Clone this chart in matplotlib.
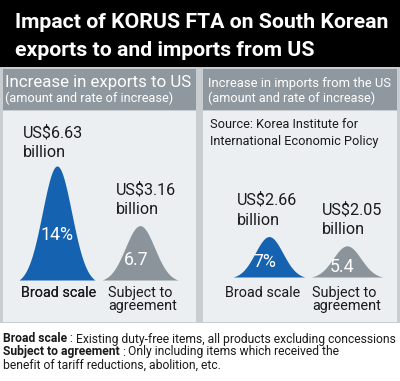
import matplotlib.pyplot as plt
import numpy as np
from matplotlib.patches import Rectangle

# chart data
categories = ["Broad scale", "Subject to\nagreement"]
exports_amount = [6.63, 3.16]          # US$ billion
exports_rate = ["14%", "6.7"]
imports_amount = [2.66, 2.05]
imports_rate = ["7%", "5.4"]

W, H = 400, 381
BLUE = "#1562b0"
GREY = "#8a949a"
HEAD = "#8f989e"
BODY = "#eceff1"
EDGE = "#c8cdd1"
INK = "#1a1a1a"
FONT = ["Roboto", "DejaVu Sans"]

fig = plt.figure(figsize=(W / 100, H / 100), dpi=100)
fig.patch.set_facecolor("white")
renderer = fig.canvas.get_renderer()


def fx(x):
    return x / W


def fy(y):
    return 1 - y / H


def box(x0, y0, x1, y1, color):
    fig.add_artist(Rectangle((fx(x0), fy(y1)), (x1 - x0) / W, (y1 - y0) / H,
                             transform=fig.transFigure, color=color, lw=0, zorder=0))


def put(x, y, s, w=None, size=10, ha="left", **kw):
    # draw text, optionally scaling it to a target pixel width
    t = fig.text(fx(x), fy(y), s, ha=ha, va="center", fontsize=size, family=FONT, **kw)
    if w is not None:
        size = size * w / t.get_window_extent(renderer).width
        t.set_fontsize(size)
    return size


def put_line(x, y, parts, size):
    # parts: list of (text, weight), drawn one after another
    for s, wt in parts:
        t = fig.text(fx(x), fy(y), s, ha="left", va="center", fontsize=size,
                     family=FONT, weight=wt, color=INK)
        x += t.get_window_extent(renderer).width
    return x


def bell(ax, pos, height, color, hw):
    x = np.linspace(-hw, hw, 300)
    s = hw / 2.6
    g = np.exp(-0.5 * (x / s) ** 2)
    g = (g - g[0]) / (1 - g[0])
    ax.fill_between(pos + x, 0, height * g, color=color, lw=0)


# backgrounds
box(0, 0, W, 67, "black")
box(0, 67, W, 323, EDGE)
box(3, 69, 196, 110, HEAD)
box(203, 69, 397, 110, HEAD)
box(3, 111, 196, 322, BODY)
box(203, 111, 397, 322, BODY)

# title
s = put(15, 22, "Impact of KORUS FTA on South Korean", 375, 18, weight="bold", color="white")
put(15, 50, "exports to and imports from US", None, s, weight="bold", color="white")

# panel headers
put(5, 83, "Increase in exports to US", 187, color="white")
put(5, 98, "(amount and rate of increase)", 168, color="white")
put(208, 83, "Increase in imports from the US", 183, color="white")
put(208, 98, "(amount and rate of increase)", 167, color="white")
s = put(210, 124, "Source: Korea Institute for", 148, color=INK)
put(210, 141, "International Economic Policy", None, s, color=INK)

# bell axes: (left px, base px, px per unit value, first centre px, step px, half width px)
panels = [
    (0, 280, 17.2, 57, 83, 38, exports_amount),
    (203, 277, 15.2, 269, 78, 36, imports_amount),
]
for left, base, ppu, c0, step, hw, amounts in panels:
    ax = fig.add_axes([fx(left), fy(base), 197 / W, (base - 112) / H])
    ax.set_axis_off()
    ax.set_ylim(0, (base - 112) / ppu)
    ax.set_xlim(-(c0 - left) / step, (197 - (c0 - left)) / step)
    for i, (v, col) in enumerate(zip(amounts, [BLUE, GREY])):
        bell(ax, i, v, col, hw / step)

# amount labels
amt_pos = [(23, 133), (116, 190), (237, 200), (322, 210)]
amounts = exports_amount + imports_amount
size = put(*amt_pos[0], f"US${amounts[0]:.2f}", 60, color=INK)
for (x, y), v in zip(amt_pos, amounts):
    if (x, y) != amt_pos[0]:
        put(x, y, f"US${v:.2f}", None, size, color=INK)
    put(x, y + 20, "billion", None, size, color=INK)

# rate labels inside the bells
rate_pos = [(57, 235), (136, 260), (265, 262), (342, 267)]
rates = exports_rate + imports_rate
size = put(*rate_pos[0], rates[0], 33, ha="center", color="white")
for (x, y), r in list(zip(rate_pos, rates))[1:]:
    put(x, y, r, None, size, ha="center", color="white")

# category labels
size = put(21, 293, categories[0], 75, color=INK)
for x0 in (0, 204):
    put(21 + x0, 293, categories[0], None, size, color=INK)
    for k, line in enumerate(categories[1].split("\n")):
        put(108 + x0, 293 + 13 * k, line, None, size, color=INK)

# footnote: fit the first line to the width, reuse the size for the rest
line1 = [("Broad scale", "bold"), (" : ", "normal"),
         ("Existing duty-free items, all products excluding concessions", "normal")]
probe = put_line(0, -50, line1, 10)
fsize = 10 * 394 / probe
for t in fig.texts[-3:]:
    t.remove()
put_line(3, 339, line1, fsize)
put_line(3, 352, [("Subject to agreement", "bold"), (" : ", "normal"),
                  ("Only including items which received the", "normal")], fsize)
put_line(3, 365, [("benefit of tariff reductions, abolition, etc.", "normal")], fsize)

fig.savefig("out.png", dpi=100, facecolor="white")
